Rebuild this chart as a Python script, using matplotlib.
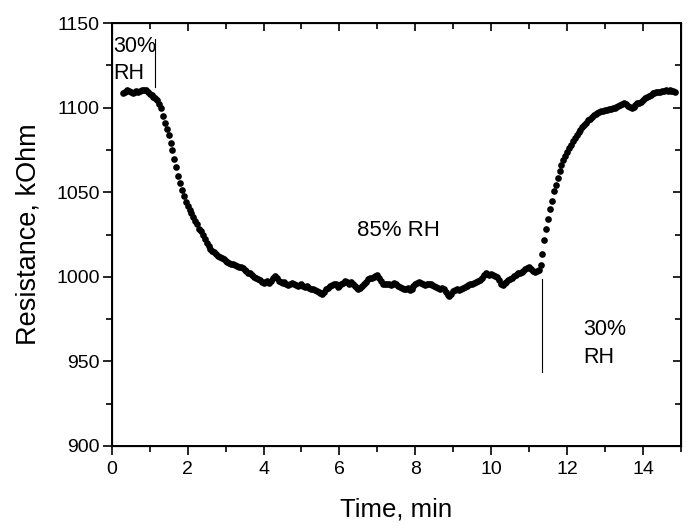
import matplotlib
matplotlib.use("Agg")
import matplotlib.pyplot as plt
from matplotlib.ticker import MultipleLocator

plt.rcParams['font.family'] = ['Liberation Sans', 'DejaVu Sans']

time_min = [
    0.30, 0.35, 0.40, 0.45, 0.50, 0.55, 0.60, 0.65, 0.70, 0.75, 0.80, 0.85, 0.90, 0.95,
    1.00, 1.05, 1.10, 1.15, 1.20, 1.25, 1.30, 1.35, 1.40, 1.45, 1.50, 1.55, 1.60, 1.65, 1.70, 1.75,
    1.80, 1.85, 1.90, 1.95, 2.00, 2.05, 2.10, 2.15, 2.20, 2.25, 2.30, 2.35, 2.40, 2.45, 2.50, 2.55,
    2.60, 2.65, 2.70, 2.75, 2.80, 2.85, 2.90, 2.95, 3.00, 3.05, 3.10, 3.15, 3.20, 3.25, 3.30, 3.35,
    3.40, 3.45, 3.50, 3.55, 3.60, 3.65, 3.70, 3.75, 3.80, 3.85, 3.90, 3.95, 4.00, 4.05, 4.10, 4.15,
    4.20, 4.25, 4.30, 4.35, 4.40, 4.45, 4.50, 4.55, 4.60, 4.65, 4.70, 4.75, 4.80, 4.85, 4.90, 4.95,
    5.00, 5.05, 5.10, 5.15, 5.20, 5.25, 5.30, 5.35, 5.40, 5.45, 5.50, 5.55, 5.60, 5.65, 5.70, 5.75,
    5.80, 5.85, 5.90, 5.95, 6.00, 6.05, 6.10, 6.15, 6.20, 6.25, 6.30, 6.35, 6.40, 6.45, 6.50, 6.55,
    6.60, 6.65, 6.70, 6.75, 6.80, 6.85, 6.90, 6.95, 7.00, 7.05, 7.10, 7.15, 7.20, 7.25, 7.30, 7.35,
    7.40, 7.45, 7.50, 7.55, 7.60, 7.65, 7.70, 7.75, 7.80, 7.85, 7.90, 7.95, 8.00, 8.05, 8.10, 8.15,
    8.20, 8.25, 8.30, 8.35, 8.40, 8.45, 8.50, 8.55, 8.60, 8.65, 8.70, 8.75, 8.80, 8.85, 8.90, 8.95,
    9.00, 9.05, 9.10, 9.15, 9.20, 9.25, 9.30, 9.35, 9.40, 9.45, 9.50, 9.55, 9.60, 9.65, 9.70, 9.75,
    9.80, 9.85, 9.90, 9.95, 10.00, 10.05, 10.10, 10.15, 10.20, 10.25, 10.30, 10.35, 10.40, 10.45,
    10.50, 10.55, 10.60, 10.65, 10.70, 10.75, 10.80, 10.85, 10.90, 10.95, 11.00, 11.05, 11.10, 11.15,
    11.20, 11.25, 11.30, 11.35, 11.40, 11.45, 11.50, 11.55, 11.60, 11.65, 11.70, 11.75, 11.80, 11.85,
    11.90, 11.95, 12.00, 12.05, 12.10, 12.15, 12.20, 12.25, 12.30, 12.35, 12.40, 12.45, 12.50, 12.55,
    12.60, 12.65, 12.70, 12.75, 12.80, 12.85, 12.90, 12.95, 13.00, 13.05, 13.10, 13.15, 13.20, 13.25,
    13.30, 13.35, 13.40, 13.45, 13.50, 13.55, 13.60, 13.65, 13.70, 13.75, 13.80, 13.85, 13.90, 13.95,
    14.00, 14.05, 14.10, 14.15, 14.20, 14.25, 14.30, 14.35, 14.40, 14.45, 14.50, 14.55, 14.60, 14.65,
    14.70, 14.75, 14.80, 14.85,
]

resistance_kohm = [
    1108.5, 1109.5, 1110.3, 1109.8, 1109.0, 1108.6, 1109.4, 1109.8, 1109.5, 1109.9, 1110.4, 1110.2, 1110.5, 1109.3,
    1107.8, 1107.2, 1106.5, 1105.8, 1104.5, 1102.0, 1099.5, 1095.0, 1091.0, 1087.5, 1084.0, 1079.0, 1075.0, 1069.5, 1065.0, 1059.5,
    1055.5, 1051.5, 1047.5, 1044.5, 1042.0, 1039.5, 1037.5, 1035.5, 1033.0, 1031.5, 1028.5, 1027.0, 1024.5, 1022.5, 1020.0, 1018.5,
    1016.5, 1015.5, 1014.5, 1013.5, 1012.5, 1012.0, 1011.0, 1010.5, 1009.5, 1009.0, 1008.0, 1007.5, 1007.5, 1007.0, 1006.5, 1006.0,
    1005.5, 1005.0, 1004.0, 1003.5, 1002.5, 1002.0, 1001.0, 1000.0, 999.5, 998.5, 998.0, 997.0, 996.5, 997.0, 997.5, 996.5,
    997.5, 999.0, 1000.5, 999.0, 997.5, 997.0, 996.5, 997.0, 996.0, 995.0, 995.5, 996.5, 996.0, 995.0, 994.5, 995.0,
    995.5, 994.5, 994.0, 994.5, 993.5, 993.0, 992.5, 992.0, 991.5, 991.0, 990.5, 990.0, 991.0, 992.5, 993.5, 994.5,
    995.0, 995.5, 995.5, 994.0, 994.5, 996.0, 996.5, 997.5, 997.0, 996.0, 997.0, 995.5, 994.5, 993.5, 993.0, 993.5,
    994.5, 996.0, 997.0, 998.5, 999.0, 999.5, 1000.0, 1000.5, 1001.0, 999.5, 997.5, 996.0, 995.5, 996.0, 995.5, 995.0,
    996.0, 996.5, 995.5, 994.5, 994.0, 993.5, 993.0, 992.5, 993.5, 992.0, 993.0, 994.5, 995.5, 996.5, 997.0, 996.5,
    995.5, 995.0, 995.5, 996.0, 995.5, 995.0, 994.5, 994.0, 993.5, 993.0, 993.5, 992.5, 991.0, 989.5, 988.5, 990.0,
    991.5, 992.0, 992.5, 992.0, 993.0, 993.5, 994.0, 994.5, 995.0, 995.5, 996.0, 996.5, 997.0, 997.5, 998.0, 999.5,
    1001.0, 1002.0, 1001.5, 1001.0, 1001.5, 1001.0, 1000.5, 1000.0, 998.0, 996.0, 995.0, 996.5, 997.0, 998.0,
    998.5, 999.5, 1000.5, 1001.0, 1002.0, 1002.5, 1003.0, 1003.5, 1004.5, 1005.0, 1005.5, 1004.5, 1003.5, 1003.0,
    1003.5, 1004.0, 1007.0, 1013.5, 1022.0, 1028.0, 1034.0, 1040.0, 1045.0, 1050.5, 1054.5, 1058.5, 1062.5, 1066.0,
    1069.0, 1071.5, 1074.0, 1076.0, 1078.0, 1080.0, 1082.0, 1084.0, 1085.5, 1087.0, 1088.5, 1090.0, 1091.0, 1092.5,
    1093.5, 1094.5, 1095.5, 1096.0, 1097.0, 1097.5, 1098.0, 1098.0, 1098.5, 1098.5, 1099.0, 1099.0, 1099.5, 1100.0,
    1100.5, 1101.0, 1101.5, 1102.0, 1102.5, 1102.0, 1101.0, 1100.5, 1100.0, 1100.5, 1101.5, 1102.5, 1103.0, 1103.5,
    1104.5, 1105.5, 1106.5, 1107.0, 1107.5, 1108.5, 1108.5, 1109.0, 1109.5, 1109.5, 1110.0, 1110.0, 1110.5, 1110.0,
    1110.5, 1110.0, 1110.0, 1109.5,
]

x_ticks = [0, 2, 4, 6, 8, 10, 12, 14]
y_ticks = [900, 950, 1000, 1050, 1100, 1150]

# humidity switch markers: (time, y_bottom, y_top)
switch_lines = [(1.13, 1112.0, 1140.5), (11.35, 943.5, 998.5)]
# annotations: (text, x, y, ha, va)
labels = [("30%\nRH", 0.04, 1142.5, "left", "top"),
          ("85% RH", 7.55, 1027.5, "center", "center"),
          ("30%\nRH", 12.43, 975.0, "left", "top")]

fig = plt.figure(figsize=(6.91, 5.29), dpi=100)
ax = fig.add_axes([0.1617, 0.1569, 0.9855 - 0.1617, 0.9565 - 0.1569])

ax.plot(time_min, resistance_kohm, linestyle='none', marker='o', markersize=4.8,
        color='black', markeredgewidth=0)

for xl, y0, y1 in switch_lines:
    ax.plot([xl, xl], [y0, y1], color='black', linewidth=0.8)

for i, (txt, tx, ty, ha, va) in enumerate(labels):
    ax.text(tx, ty, txt, ha=ha, va=va, fontsize=(16 if i == 1 else 15.5),
            linespacing=1.4)

ax.set_xlim(0, 15)
ax.set_ylim(900, 1150)
ax.set_xticks(x_ticks)
ax.set_yticks(y_ticks)
ax.xaxis.set_minor_locator(MultipleLocator(1))
ax.yaxis.set_minor_locator(MultipleLocator(25))
ax.tick_params(which='major', direction='out', length=6.5, width=1.2, labelsize=14, pad=2)
ax.tick_params(axis='x', which='major', pad=4)
ax.tick_params(which='minor', direction='out', length=4, width=1.2)
for s in ax.spines.values():
    s.set_linewidth(1.4)

axt = ax.twiny()
axt.set_xlim(0, 15)
axt.set_xticks(x_ticks)
axt.xaxis.set_minor_locator(MultipleLocator(1))
axt.tick_params(which='both', direction='in', labeltop=False, width=1.2)
axt.tick_params(which='major', length=6)
axt.tick_params(which='minor', length=4.5)

axr = ax.twinx()
axr.set_ylim(900, 1150)
axr.set_yticks(y_ticks)
axr.yaxis.set_minor_locator(MultipleLocator(25))
axr.tick_params(which='both', direction='in', labelright=False, width=1.2)
axr.tick_params(which='major', length=6)
axr.tick_params(which='minor', length=4.5)

ax.set_xlabel("Time, min", fontsize=18.5, labelpad=14)
ax.set_ylabel("Resistance, kOhm", fontsize=19.5, labelpad=11)

fig.savefig("out.png", dpi=100)
